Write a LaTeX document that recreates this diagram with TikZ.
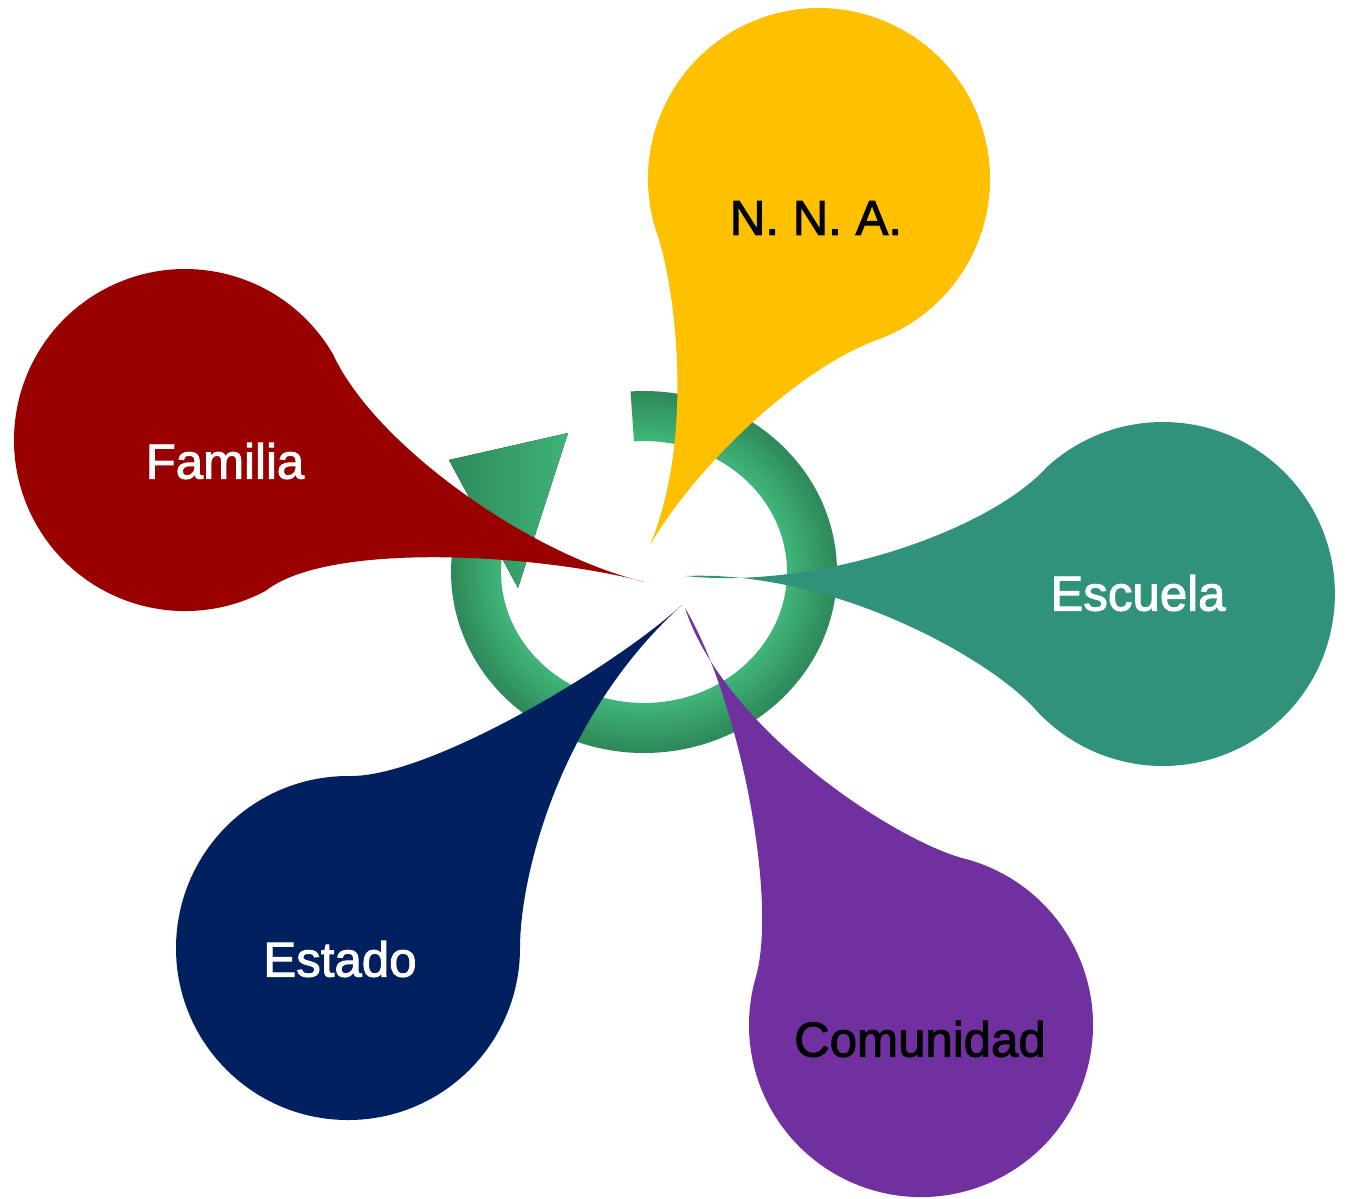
\documentclass[tikz,border=0pt]{standalone}
\usepackage{fontspec}
\setmainfont{Liberation Sans}
\newfontfamily\petalfont[FakeBold=2]{Liberation Sans}
\usepackage{tikz}
\definecolor{ringdark}{RGB}{46,138,90}
\definecolor{ringlight}{RGB}{63,179,120}
\definecolor{nnacol}{RGB}{255,192,0}
\definecolor{familiacol}{RGB}{153,0,0}
\definecolor{escuelacol}{RGB}{49,146,124}
\definecolor{estadocol}{RGB}{0,32,96}
\definecolor{comunidadcol}{RGB}{112,48,160}
\begin{document}
\begin{tikzpicture}[x=0.02cm,y=-0.02cm,
  txt/.style={font={\petalfont\fontsize{28}{34}\selectfont},text=white,inner sep=0pt}]
\useasboundingbox (0,0) rectangle (1348,1198);

\coordinate (hub) at (644,572);
\foreach \i in {0,...,10}{
  \pgfmathsetmacro\rx{190.5-4.5*\i}
  \pgfmathsetmacro\ry{178.5-4.5*\i}
  \pgfmathtruncatemacro\pct{\i*10}
  \draw[line width=0.1cm,color=ringlight!\pct!ringdark] (hub) ++(266:{\rx} and {\ry})
    arc[start angle=266,end angle=550,x radius=\rx,y radius=\ry];
}
\fill[left color=ringdark,right color=ringlight] (449,460) -- (568,433) -- (518,588) -- cycle;

\fill[nnacol] (650,545) .. controls (694,440) and (676,293) .. (658.3,237.5)
  arc[start angle=160,end angle=430,radius=171]
  .. controls (802,367) and (700,460) .. (650,545) -- cycle;
\fill[familiacol] (645,582) .. controls (545,555) and (330,540) .. (265.3,591)
  arc[start angle=62,end angle=330,radius=171]
  .. controls (375,445) and (530,555) .. (645,582) -- cycle;
\fill[escuelacol] (685,576) .. controls (820,590) and (990,530) .. (1046.7,467.2)
  arc[start angle=227.5,end angle=499,radius=172]
  .. controls (984,655) and (830,570) .. (685,576) -- cycle;
\fill[estadocol] (682,605) .. controls (560,715) and (520,875) .. (520,948)
  arc[start angle=0,end angle=271,radius=172]
  .. controls (430,776) and (610,670) .. (682,605) -- cycle;
\fill[comunidadcol] (685,608) .. controls (725,730) and (897,842) .. (965.5,858.9)
  arc[start angle=285,end angle=556,radius=172]
  .. controls (778,901) and (740,700) .. (685,608) -- cycle;

\node[txt,text=black] (nna) at (816,218) {N. N. A.};
\node[txt] (familia) at (225,461) {Familia};
\node[txt] (escuela) at (1138,593) {Escuela};
\node[txt] (estado) at (340,959) {Estado};
\node[txt,text=black] (comunidad) at (920,1039) {Comunidad};
\end{tikzpicture}
\end{document}
